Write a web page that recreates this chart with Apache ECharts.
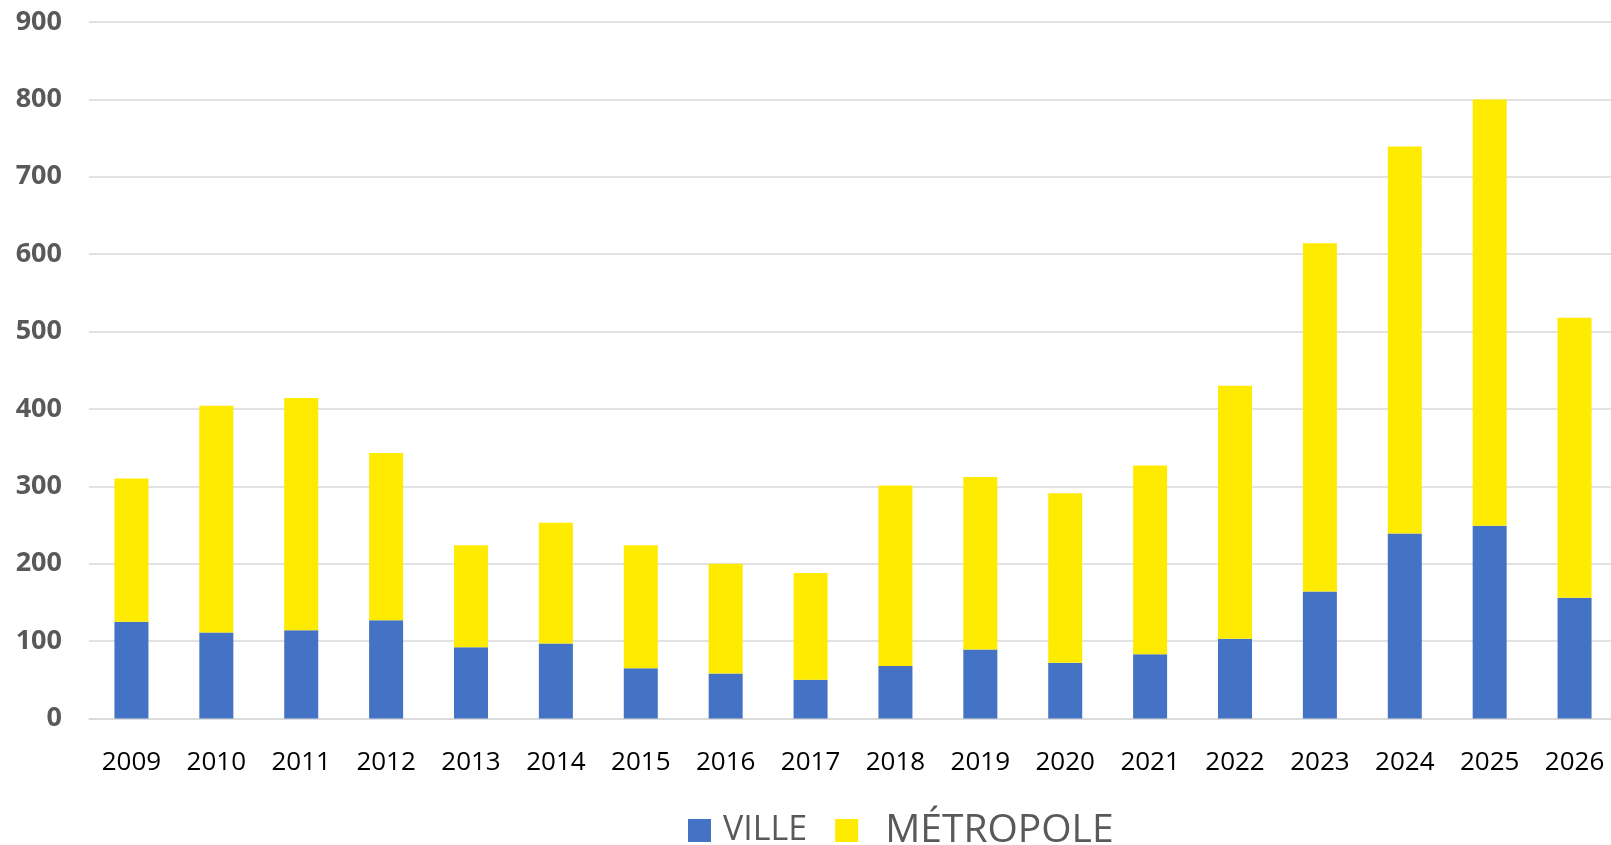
<!DOCTYPE html>
<html>
<head>
<meta charset="utf-8">
<title>Ville / Métropole</title>
<script src="https://cdn.jsdelivr.net/npm/echarts@6/dist/echarts.min.js"></script>
<style>
  html, body { margin: 0; padding: 0; background: #fff; }
  #chart { width: 1611px; height: 845px; }
</style>
</head>
<body>
<div id="chart"></div>
<script>
// Données
const years = ['2009', '2010', '2011', '2012', '2013', '2014', '2015', '2016', '2017',
  '2018', '2019', '2020', '2021', '2022', '2023', '2024', '2025', '2026'];
const ville = [125, 111, 114, 127, 92, 97, 65, 58, 50, 68, 89, 72, 83, 103, 164, 239, 249, 156];
const metropole = [185, 293, 300, 216, 132, 156, 159, 142, 138, 233, 223, 219, 244, 327, 450, 500, 551, 362];
const yTicks = { min: 0, max: 900, interval: 100 };

const COLORS = {
  ville: '#4472C4',
  metropole: '#FFEB00',
  grid: '#D9D9D9',
  label: '#595959'
};

function renderChart() {
  const chart = echarts.init(document.getElementById('chart'));

  chart.setOption({
    animation: false,
    // la zone de tracé déborde un peu à droite, comme sur l'original
    grid: { left: 89, width: 1528, top: 22, bottom: 126.5, outerBoundsMode: 'none' },
    legend: {
      data: [
        { name: 'VILLE', textStyle: { fontSize: 34, padding: [0, 0, 0, 7] } },
        { name: 'MÉTROPOLE', textStyle: { fontSize: 39, padding: [0, 0, 0, 22] } }
      ],
      left: 688,
      top: 811,
      padding: 0,
      itemWidth: 23,
      itemHeight: 23,
      itemGap: 28,
      icon: 'rect',
      textStyle: { fontFamily: 'Open Sans', fontSize: 36, color: COLORS.label }
    },
    xAxis: {
      type: 'category',
      data: years,
      axisLine: { lineStyle: { color: COLORS.grid, width: 1.5 } },
      axisTick: { show: false },
      axisLabel: { color: '#000', fontFamily: 'Open Sans', fontSize: 26, margin: 31 }
    },
    yAxis: {
      type: 'value',
      min: yTicks.min,
      max: yTicks.max,
      interval: yTicks.interval,
      axisLine: { show: false },
      axisTick: { show: false },
      axisLabel: { color: COLORS.label, fontFamily: 'Open Sans', fontWeight: 'bold', fontSize: 27, margin: 27 },
      splitLine: { lineStyle: { color: COLORS.grid, width: 1.5 } }
    },
    series: [
      { name: 'VILLE', type: 'bar', stack: 'total', barWidth: 34, data: ville, itemStyle: { color: COLORS.ville } },
      { name: 'MÉTROPOLE', type: 'bar', stack: 'total', barWidth: 34, data: metropole, itemStyle: { color: COLORS.metropole } }
    ]
  });

  window.mainChart = chart;
}

renderChart();
</script>
</body>
</html>
